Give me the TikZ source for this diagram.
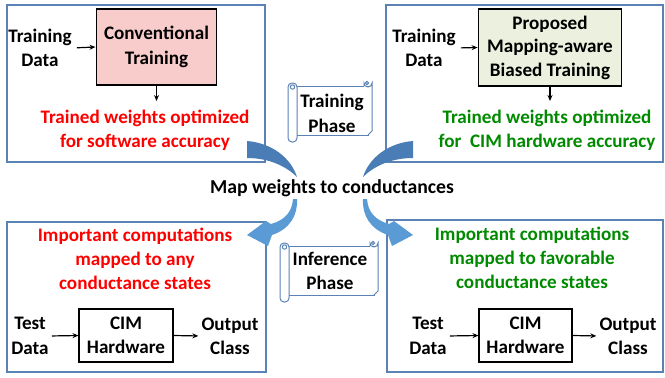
\documentclass[tikz,border=0pt]{standalone}
\usepackage{fontspec}
\setmainfont{Carlito}
\usetikzlibrary{arrows.meta}
\definecolor{frameblue}{HTML}{5B82B5}
\definecolor{pinkfill}{HTML}{F9CCCC}
\definecolor{greenfill}{HTML}{EBF1DE}
\definecolor{txtred}{HTML}{FF0000}
\definecolor{txtgreen}{HTML}{008A00}
\definecolor{arrdark}{HTML}{4A7DB5}
\definecolor{arrlight}{HTML}{5B9BD5}
\newcommand\drawscroll[4]{%
  \draw[scrollst] (#1+5,#2+8) -- (#3-4,#2+8) -- (#3-4,#4-7) -- (#1+5,#4-7) -- cycle;
  \draw[scrollst] (#3-8,#2+8) -- (#3-8,#2+5) arc[start angle=180,end angle=0,radius=4] -- (#3,#4-11) -- (#3-4,#4-7);
  \draw[scrollst] (#3-5,#2+5) circle[radius=1.6];
  \draw[scrollst,rounded corners=4] (#1,#2+5) rectangle (#1+9,#4);
  \draw[scrollst] (#1+4.5,#2+9) circle[radius=2.2];
}
\begin{document}
\begin{tikzpicture}[x=1bp,y=-1bp,
  txt/.style={font=\bfseries\fontsize{19.2}{24.5}\selectfont, align=center, inner sep=0pt},
  frame/.style={draw=frameblue, line width=1.2pt},
  procbox/.style={txt, draw=black, line width=1.4pt},
  conn/.style={-{Stealth[length=6pt,width=5pt]}, line width=1.2pt},
  scrollst/.style={draw=frameblue, fill=white, line width=1pt},
  bigtxt/.style={font=\bfseries\fontsize{19.8}{24}\selectfont, inner sep=0pt}]
\useasboundingbox (0,0) rectangle (665,377);
\fill[white] (0,0) rectangle (665,377);
% frames
\draw[frame] (7,5) rectangle (265,162);
\draw[frame] (386,5) rectangle (663,162);
\draw[frame] (7,222) rectangle (266,372);
\draw[frame] (387,220) rectangle (663,372);
% top left
\node[txt] (tdata1) at (40,48) {Training\\Data};
\node[procbox, fill=pinkfill, minimum width=121, minimum height=76] (conv) at (156.5,47) {Conventional\\Training};
\node[txt, text=txtred] (red1) at (145,130) {Trained weights optimized\\for software accuracy};
\coordinate (d1) at (156.5,101);
\draw[conn, shorten <=5bp] (tdata1.east) -- (conv.west);
\draw[conn] (conv.south) -- (d1);
% top right
\node[txt] (tdata2) at (424,48) {Training\\Data};
\node[procbox, fill=greenfill, minimum width=144, minimum height=77,
  font=\bfseries\fontsize{19.2}{23.5}\selectfont] (prop) at (550,47.5) {Proposed\\Mapping-aware\\Biased Training};
\node[txt, text=txtgreen] (grn1) at (547,130) {Trained weights optimized\\for\ \ CIM hardware accuracy};
\coordinate (d2) at (550,101);
\draw[conn, shorten <=5bp] (tdata2.east) -- (prop.west);
\draw[conn] (prop.south) -- (d2);
% bottom left
\node[txt, text=txtred, font=\bfseries\fontsize{19.2}{24}\selectfont] (red2) at (135,259) {Important computations\\mapped to any\\conductance states};
\node[procbox, minimum width=94, minimum height=53] (cim1) at (126,335.5) {CIM\\Hardware};
\node[txt] (test1) at (30,336) {Test\\Data};
\node[txt] (out1) at (230,336) {Output\\Class};
\draw[conn, shorten <=3bp] (test1.east) -- (cim1.west);
\draw[conn, shorten >=3bp] (cim1.east) -- (out1.west);
% bottom right
\node[txt, text=txtgreen, font=\bfseries\fontsize{19.2}{24}\selectfont] (grn2) at (532,258) {Important computations\\mapped to favorable\\conductance states};
\node[procbox, minimum width=93, minimum height=53] (cim2) at (525.5,335.5) {CIM\\Hardware};
\node[txt] (test2) at (428,336) {Test\\Data};
\node[txt] (out2) at (628,336) {Output\\Class};
\draw[conn, shorten <=3bp] (test2.east) -- (cim2.west);
\draw[conn, shorten >=3bp] (cim2.east) -- (out2.west);
% scrolls
\drawscroll{288}{78}{372}{142}
\node[txt] (tphase) at (332,113.5) {Training\\Phase};
\drawscroll{280}{238}{378}{302}
\node[txt] (iphase) at (330,271) {Inference\\Phase};
% center text
\node[bigtxt] (map) at (332,188) {Map weights to conductances};
% curved arrows
\fill[arrdark] (247,141) .. controls (272,143) and (291,158) .. (297,177)
  .. controls (287,167) and (270,158) .. (247,158) -- cycle;
\fill[arrdark] (413,141) .. controls (388,143) and (369,158) .. (363,177)
  .. controls (373,167) and (390,158) .. (413,158) -- cycle;
\fill[arrlight] (293,199) .. controls (292,212) and (285,220) .. (271,224) -- (266,221) -- (247,235) -- (268,246) -- (272,235)
  .. controls (290,229) and (298,215) .. (297,199) -- cycle;
\fill[arrlight] (367,199) .. controls (368,212) and (375,220) .. (389,224) -- (394,221) -- (413,235) -- (392,246) -- (388,235)
  .. controls (370,229) and (362,215) .. (363,199) -- cycle;
\end{tikzpicture}
\end{document}
